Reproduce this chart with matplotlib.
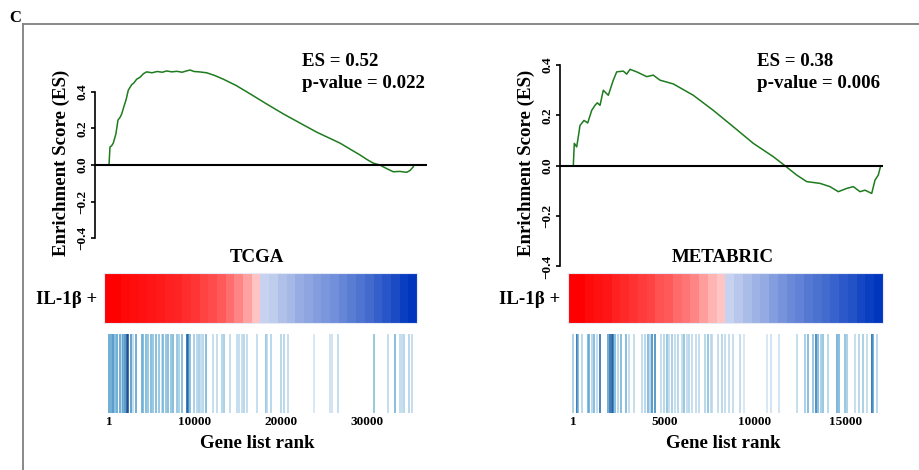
import matplotlib.pyplot as plt
import numpy as np
from matplotlib.colors import LinearSegmentedColormap
from matplotlib.lines import Line2D

# ---- data ----
# running enrichment score, TCGA (rank, ES)
tcga_es_rank = [1, 116, 300, 500, 800, 1047, 1300, 1477, 1800, 2000, 2244, 2640, 2900, 3221, 3600,
                4000, 4384, 5000, 5600, 6200, 6709, 7300, 7900, 8500, 9000, 9419, 9900, 10500, 11360,
                12300, 13290, 14800, 16395, 18300, 20267, 22200, 24150, 25500, 26860, 28000, 29186,
                30000, 30733, 31512, 32300, 33058, 33800, 34616, 35000, 35384, 35400]
tcga_es = [0, 0.099, 0.105, 0.12, 0.17, 0.246, 0.262, 0.28, 0.33, 0.36, 0.41, 0.44, 0.45, 0.47, 0.48,
           0.5, 0.51, 0.505, 0.512, 0.508, 0.515, 0.51, 0.513, 0.508, 0.515, 0.52, 0.512, 0.51, 0.505,
           0.49, 0.47, 0.435, 0.39, 0.335, 0.28, 0.23, 0.18, 0.15, 0.12, 0.088, 0.055,
           0.03, 0.01, 0.0, -0.02, -0.037, -0.035, -0.04, -0.03, -0.01, 0.0]

# running enrichment score, METABRIC
meta_es_rank = [1, 55, 187, 275, 369, 589, 793, 1013, 1194, 1321, 1470, 1651, 1927, 2202, 2389, 2752,
                2939, 3121, 3490, 4040, 4404, 4772, 5505, 6605, 7706, 8807, 9908, 11009, 11653, 12297,
                12848, 13580, 14130, 14587, 15049, 15413, 15781, 16056, 16425, 16607, 16788, 16920]
meta_es = [0, 0.089, 0.075, 0.115, 0.16, 0.18, 0.17, 0.22, 0.24, 0.25, 0.24, 0.30, 0.28, 0.34, 0.373, 0.376,
           0.364, 0.383, 0.373, 0.354, 0.36, 0.34, 0.325, 0.28, 0.22, 0.155, 0.089, 0.036, 0, -0.037,
           -0.063, -0.07, -0.083, -0.103, -0.09, -0.083, -0.103, -0.097, -0.11, -0.057, -0.037, 0]

# gene set hits (barcode) and their shading
tcga_hits = [1, 233, 500, 698, 965, 1279, 1477, 1663, 1860, 2058, 2244, 2558, 2826, 3140, 3802, 3988,
             4302, 4570, 4849, 5151, 5465, 5849, 6128, 6314, 6628, 6895, 7174, 7477, 7872, 8174, 8453,
             9035, 9221, 9419, 9919, 10198, 10465, 10663, 10965, 11279, 12128, 12523, 13105, 13372,
             14070, 14849, 15151, 15430, 15698, 16012, 17174, 18221, 18407, 18802, 20000, 20384, 20779,
             23872, 25698, 25895, 26663, 30814, 32477, 33256, 33837, 34035, 34302, 34919, 35267]
tcga_shade = [0.6, 0.6, 0.7, 0.5, 0.6, 0.6, 0.35, 0.6, 0.7, 0.95, 0.9, 0.65, 0.3, 0.6,
              0.55, 0.5, 0.5, 0.45, 0.5, 0.45, 0.5, 0.45, 0.3, 0.5, 0.45, 0.5, 0.45, 0.5, 0.45, 0.4, 0.5,
              0.85, 0.8, 0.5, 0.4, 0.35, 0.4, 0.3, 0.35, 0.5,
              0.3, 0.3, 0.35, 0.4, 0.3, 0.3, 0.3, 0.3, 0.35, 0.3, 0.3,
              0.45, 0.3, 0.35, 0.35, 0.35, 0.3, 0.2, 0.25, 0.25, 0.3, 0.45, 0.3, 0.5, 0.3, 0.3, 0.35, 0.35, 0.3]

meta_hits = [1, 187, 275, 462, 793, 881, 1013, 1156, 1288, 1470, 1894, 2020, 2114, 2202, 2295, 2477,
             2626, 2901, 3083, 3358, 3765, 3947, 4095, 4222, 4316, 4497, 4828, 5009, 5141, 5268, 5450,
             5598, 5780, 5967, 6110, 6242, 6385, 6518, 6754, 6920, 7250, 7431, 7563, 7618, 7982, 8169,
             8350, 8571, 8807, 9176, 9413, 10646, 10866, 11323, 12330, 12754, 12936, 13178, 13360, 13486,
             13618, 13761, 14004, 14499, 14626, 14956, 15082, 15506, 15743, 15963, 16150, 16425, 16513, 16733]
meta_shade = [0.4, 0.85, 0.5, 0.35, 0.5, 0.55, 0.35, 0.5, 0.3, 0.8, 0.6, 0.85, 0.9, 0.8, 0.5, 0.35,
              0.5, 0.5, 0.3, 0.3, 0.3, 0.35, 0.5, 0.35, 0.7, 0.7, 0.3, 0.35, 0.45, 0.3, 0.4,
              0.3, 0.35, 0.3, 0.45, 0.3, 0.35, 0.3, 0.3, 0.3, 0.35, 0.45, 0.3, 0.3, 0.3, 0.35,
              0.3, 0.3, 0.3, 0.3, 0.2, 0.2, 0.25, 0.25, 0.3, 0.4, 0.5, 0.45, 0.75, 0.5, 0.4,
              0.45, 0.35, 0.55, 0.5, 0.45, 0.4, 0.3, 0.35, 0.4, 0.3, 0.85, 0.6, 0.35]

# ranked metric stripes (positive = red, negative = blue)
tcga_heat = [1.0, 1.0, 0.96, 0.94, 0.92, 0.9, 0.88, 0.85, 0.83, 0.79, 0.76, 0.7, 0.66, 0.6, 0.5, 0.4,
             0.28, 0.13, -0.12, -0.15, -0.22, -0.27, -0.33, -0.37, -0.42, -0.46, -0.5, -0.55, -0.6,
             -0.65, -0.7, -0.76, -0.82, -0.88, -0.95, -1.0]
meta_heat = [1.0, 1.0, 0.95, 0.92, 0.9, 0.85, 0.82, 0.78, 0.73, 0.7, 0.63, 0.6, 0.52, 0.47, 0.4, 0.3,
             0.2, 0.12, -0.12, -0.18, -0.25, -0.3, -0.35, -0.42, -0.47, -0.53, -0.57, -0.62, -0.66,
             -0.7, -0.75, -0.8, -0.84, -0.9, -0.95, -1.0]

rank_ticks_tcga = [1, 10000, 20000, 30000]
rank_ticks_meta = [1, 5000, 10000, 15000]
es_ticks = [-0.4, -0.2, 0.0, 0.2, 0.4]

plt.rcParams['font.family'] = 'Liberation Serif'
plt.rcParams['font.weight'] = 'bold'

W, H = 919, 470
fig = plt.figure(figsize=(W / 100, H / 100), dpi=100)


def rect(x0, y0, x1, y1):
    # pixel box (top-left origin) -> figure fraction
    return [x0 / W, 1 - y1 / H, (x1 - x0) / W, (y1 - y0) / H]


heat_cmap = LinearSegmentedColormap.from_list(
    'heat', [(0.0, '#0036BE'), (0.499, '#E2E8F6'), (0.501, '#FFE0E0'), (1.0, '#FF0000')])
bar_cmap = plt.get_cmap('Blues')
big = 13.6

panels = [
    dict(name='TCGA', rank=tcga_es_rank, es=tcga_es, hits=tcga_hits, shade=tcga_shade, heat=tcga_heat,
         ticks=rank_ticks_tcga, xspan=(95, 427), xlim=(-1628, 36977), es_top=60, es_bot=245,
         ylim=(-0.438, 0.575), heat_x=(104, 417), text_x=302, label='ES = 0.52', pval='p-value = 0.022',
         ylab_x=61, il_x=97, mid_x=257),
    dict(name='METABRIC', rank=meta_es_rank, es=meta_es, hits=meta_hits, shade=meta_shade, heat=meta_heat,
         ticks=rank_ticks_meta, xspan=(560, 883), xlim=(-732, 17047), es_top=55, es_bot=275,
         ylim=(-0.434, 0.44), heat_x=(568, 883), text_x=757, label='ES = 0.38', pval='p-value = 0.006',
         ylab_x=526, il_x=560, mid_x=723),
]

for p in panels:
    x0, x1 = p['xspan']

    # enrichment score curve
    ax = fig.add_axes(rect(x0, p['es_top'], x1, p['es_bot']))
    ax.patch.set_alpha(0)
    ax.plot(p['rank'], p['es'], color='#1E7B1E', lw=1.1)
    ax.axhline(0, color='black', lw=1.5)
    ax.set_xlim(*p['xlim'])
    ax.set_ylim(*p['ylim'])
    for s in ['top', 'right', 'bottom']:
        ax.spines[s].set_visible(False)
    ax.spines['left'].set_bounds(-0.4, 0.4)
    ax.spines['left'].set_linewidth(1.2)
    ax.set_xticks([])
    ax.set_yticks(es_ticks)
    ax.set_yticklabels(['\u22120.4', '\u22120.2', '0.0', '0.2', '0.4'], rotation=90, va='center',
                       fontsize=9.5, fontweight='bold')
    ax.tick_params(axis='y', length=3, width=1.2, pad=1.5)

    fig.text(p['ylab_x'] / W, 1 - 163 / H, 'Enrichment Score (ES)', rotation=90, ha='center', va='center',
             fontsize=big, fontweight='bold')
    fig.text(p['text_x'] / W, 1 - 62 / H, p['label'], ha='left', va='center', fontsize=big, fontweight='bold')
    fig.text(p['text_x'] / W, 1 - 84 / H, p['pval'], ha='left', va='center', fontsize=big, fontweight='bold')

    # title
    fig.text(p['mid_x'] / W, 1 - 257 / H, p['name'], ha='center', va='center', fontsize=big, fontweight='bold')

    # ranked list heat strip
    hx0, hx1 = p['heat_x']
    axh = fig.add_axes(rect(hx0, 273, hx1, 323))
    axh.imshow(np.array([p['heat']]), cmap=heat_cmap, vmin=-1, vmax=1, aspect='auto',
               interpolation='nearest', extent=(0, 1, 0, 1))
    axh.set_xticks([])
    axh.set_yticks([])
    for s in axh.spines.values():
        s.set_edgecolor('#E6EAF6')
        s.set_linewidth(0.8)
    fig.text(p['il_x'] / W, 1 - 299 / H, 'IL-1\u03b2 +', ha='right', va='center', fontsize=big,
             fontweight='bold')

    # barcode of gene set members
    axb = fig.add_axes(rect(x0, 334, x1, 413))
    axb.vlines(p['hits'], 0, 1, colors=bar_cmap(np.array(p['shade'])), lw=1.1)
    axb.set_xlim(*p['xlim'])
    axb.set_ylim(0, 1)
    for s in axb.spines.values():
        s.set_visible(False)
    axb.set_yticks([])
    axb.set_xticks(p['ticks'])
    axb.set_xticklabels([str(t) for t in p['ticks']], fontsize=9.5, fontweight='bold')
    axb.tick_params(axis='x', length=0, pad=2.5)
    fig.text(p['mid_x'] / W, 1 - 443 / H, 'Gene list rank', ha='center', va='center', fontsize=big,
             fontweight='bold')

# panel letter and frame
fig.text(15 / W, 1 - 18 / H, 'C', ha='center', va='center', fontsize=12, fontweight='bold')
fig.add_artist(Line2D([23 / W, 1.0], [1 - 24 / H, 1 - 24 / H], color='#7F7F7F', lw=1.3))
fig.add_artist(Line2D([23 / W, 23 / W], [1 - 24 / H, 0.0], color='#7F7F7F', lw=1.3))

fig.savefig('out.png', dpi=100)
